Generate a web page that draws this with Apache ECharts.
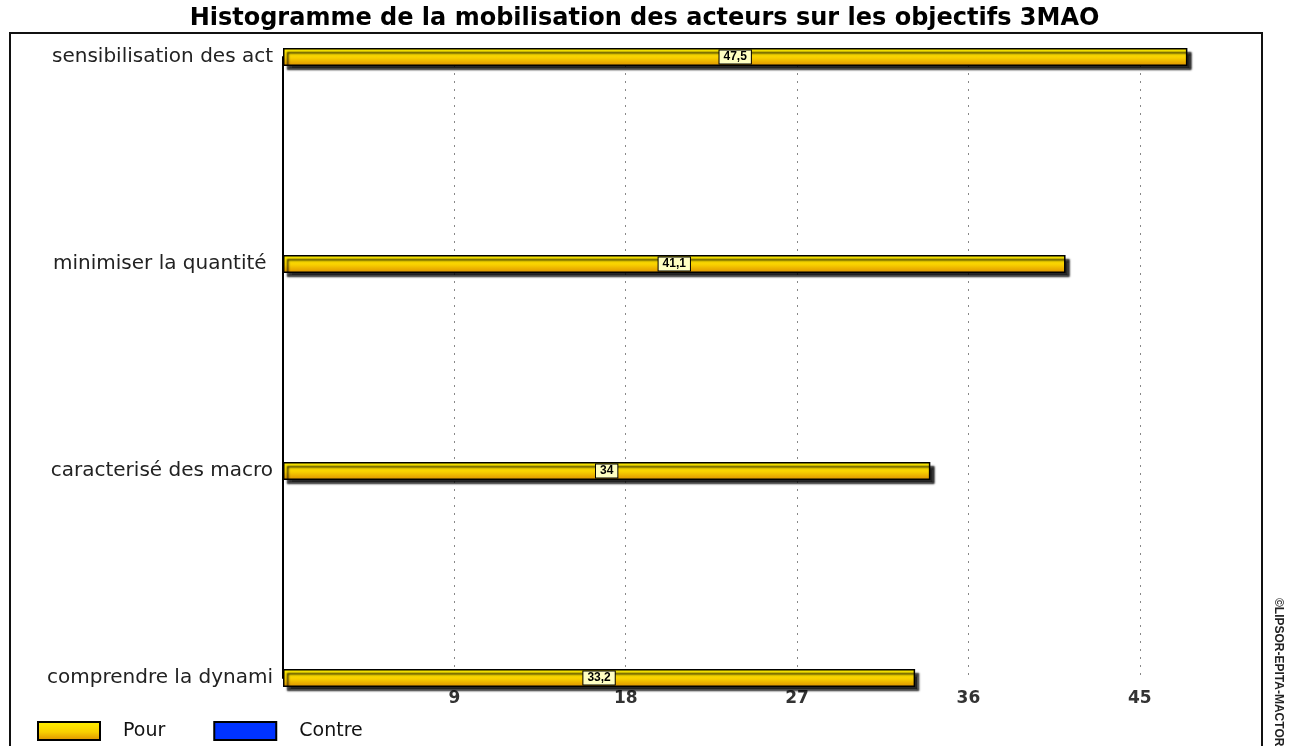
<!DOCTYPE html>
<html>
<head>
<meta charset="utf-8">
<script src="https://cdn.jsdelivr.net/npm/echarts@6/dist/echarts.min.js"></script>
<style>
  html, body { margin: 0; padding: 0; background: #fff; }
  #chart { width: 1289px; height: 746px; }
</style>
</head>
<body>
<div id="chart"></div>
<script>
var categories = ['sensibilisation des act', 'minimiser la quantité ', 'caracterisé des macro', 'comprendre la dynami'];
var pour = [47.5, 41.1, 34, 33.2];
var contre = [null, null, null, null];
var xTicks = [9, 18, 27, 36, 45];

var yellow = new echarts.graphic.LinearGradient(0, 0, 0, 1, [
    {offset: 0, color: '#fff200'},
    {offset: 0.55, color: '#f8cf00'},
    {offset: 1, color: '#dc8e00'}
]);

var myChart = echarts.init(document.getElementById('chart'));
var option = {
    animation: false,
    title: {
        text: 'Histogramme de la mobilisation des acteurs sur les objectifs 3MAO',
        left: 'center',
        top: 2,
        textStyle: {
            fontFamily: 'DejaVu Sans',
            fontWeight: 'bold',
            fontSize: 24,
            color: '#000'
        }
    },
    legend: {
        left: 32,
        top: 716,
        itemWidth: 62,
        itemHeight: 18,
        itemGap: 48,
        icon: 'rect',
        textStyle: {
            fontFamily: 'DejaVu Sans',
            fontSize: 19,
            color: '#111',
            padding: [0, 0, 0, 18]
        },
        data: ['Pour', 'Contre']
    },
    graphic: [
        {
            type: 'rect',
            shape: {x: 10, y: 33, width: 1252, height: 730},
            style: {fill: 'none', stroke: '#111', lineWidth: 2},
            silent: true
        },
        {
            type: 'text',
            x: 1284,
            y: 598,
            rotation: -Math.PI / 2,
            style: {
                text: '©LIPSOR-EPITA-MACTOR',
                font: 'bold 12px "Liberation Sans"',
                fill: '#222'
            },
            silent: true
        }
    ],
    grid: {
        left: 283,
        right: 54,
        top: 57,
        bottom: 68
    },
    xAxis: {
        type: 'value',
        min: 0,
        max: 50,
        interval: 9,
        axisLine: {show: false},
        axisTick: {show: false},
        splitLine: {
            show: true,
            showMinLine: false,
            showMaxLine: false,
            lineStyle: {color: '#888', type: [2, 6], width: 1}
        },
        axisLabel: {
            showMinLabel: false,
            showMaxLabel: false,
            margin: 12,
            fontFamily: 'DejaVu Sans',
            fontWeight: 'bold',
            fontSize: 17,
            color: '#333',
            formatter: function (v) {
                return xTicks.indexOf(v) >= 0 ? String(v) : '';
            }
        }
    },
    yAxis: {
        type: 'category',
        inverse: true,
        boundaryGap: false,
        data: categories,
        axisLine: {show: true, lineStyle: {color: '#000', width: 2}},
        axisTick: {show: false},
        axisLabel: {
            margin: 10,
            fontFamily: 'DejaVu Sans',
            fontSize: 20,
            color: '#222'
        }
    },
    series: [
        {
            name: 'Pour',
            type: 'bar',
            barWidth: 18,
            barGap: '-100%',
            data: pour,
            z: 3,
            itemStyle: {
                color: yellow,
                borderColor: '#000',
                borderWidth: 1.5,
                shadowColor: 'rgba(0,0,0,0.85)',
                shadowOffsetX: 4,
                shadowOffsetY: 4,
                shadowBlur: 2
            },
            label: {
                show: true,
                position: 'inside',
                backgroundColor: '#ffffc2',
                borderColor: '#000',
                borderWidth: 1,
                padding: [1, 4, 0, 4],
                fontFamily: 'Liberation Sans',
                fontWeight: 'bold',
                fontSize: 12,
                color: '#000',
                formatter: function (p) {
                    return String(p.value).replace('.', ',');
                }
            }
        },
        {
            name: 'Contre',
            type: 'bar',
            barWidth: 18,
            barGap: '-100%',
            data: contre,
            itemStyle: {
                color: '#0033ff',
                borderColor: '#000',
                borderWidth: 1.5
            }
        }
    ]
};
myChart.setOption(option);
</script>
</body>
</html>
